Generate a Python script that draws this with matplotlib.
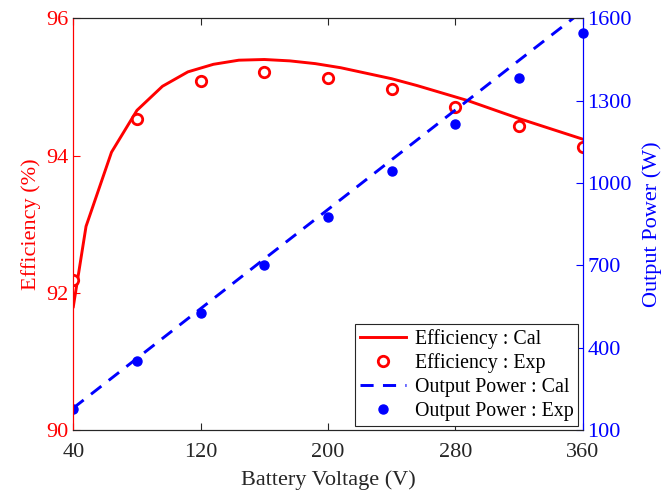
import matplotlib
matplotlib.use("Agg")
import matplotlib.pyplot as plt
from matplotlib.patches import Rectangle

plt.rcParams['font.family'] = ['Liberation Serif', 'DejaVu Serif']
plt.rcParams['mathtext.fontset'] = 'stix'

# Data
v_cal = [40, 48, 64, 80, 96, 112, 128, 144, 160, 176, 192, 208, 224, 240, 256,
         272, 288, 304, 320, 336, 352, 360]
eff_cal = [91.80, 92.97, 94.05, 94.66, 95.01, 95.22, 95.33, 95.39, 95.40, 95.38,
           95.34, 95.28, 95.20, 95.12, 95.02, 94.91, 94.80, 94.67, 94.54, 94.42,
           94.30, 94.24]
v_exp = [40, 80, 120, 160, 200, 240, 280, 320, 360]
eff_exp = [92.19, 94.53, 95.09, 95.22, 95.13, 94.97, 94.71, 94.43, 94.13]
p_cal_v = [40, 80, 120, 160, 200, 240, 280, 320, 360]
p_cal = [181, 362, 543, 724, 904, 1085, 1266, 1447, 1627]
p_exp = [177, 354, 528, 702, 876, 1045, 1215, 1382, 1548]

x_ticks = [40, 120, 200, 280, 360]
eff_ticks = [90, 92, 94, 96]
p_ticks = [100, 400, 700, 1000, 1300, 1600]

fig = plt.figure(figsize=(6.63, 4.93), dpi=100)
ax = fig.add_axes([73.3/663, 1 - 430.3/493, 509.4/663, 412/493])
ax2 = ax.twinx()

l1, = ax.plot(v_cal, eff_cal, color='#ff0000', lw=2.1, label='Efficiency : Cal')
l2, = ax.plot(v_exp, eff_exp, linestyle='none', marker='o', ms=7.5, mfc='white',
              mec='#ff0000', mew=2.0, label='Efficiency : Exp')
l3, = ax2.plot(p_cal_v, p_cal, color='#0000ff', lw=2.1, linestyle=(0, (4.5, 3.2)),
               label='Output Power : Cal')
l4, = ax2.plot(v_exp, p_exp, linestyle='none', marker='o', ms=6.5, color='#0000ff',
               label='Output Power : Exp')
clip_rect = Rectangle((0, 0), 1.05, 1.0, transform=ax2.transAxes, visible=False)
ax2.add_patch(clip_rect)
l4.set_clip_path(clip_rect)

ax.set_xlim(40, 360)
ax.set_ylim(90, 96)
ax2.set_ylim(100, 1600)
ax.set_xticks(x_ticks)
ax.set_yticks(eff_ticks)
ax2.set_yticks(p_ticks)

ax.tick_params(axis='x', direction='in', top=True, labelsize=16, colors='#262626', length=5, width=0.8, pad=9)
ax.tick_params(axis='y', direction='in', colors='#ff0000', labelsize=16, length=5, width=0.8)
ax2.tick_params(axis='y', direction='in', colors='#0000ff', labelsize=16, length=5, width=0.8)

for a in (ax, ax2):
    a.spines['top'].set_color('#262626')
    a.spines['bottom'].set_color('#262626')
    a.spines['left'].set_color('#ff0000')
    a.spines['right'].set_color('#0000ff')

ax.set_xlabel('Battery Voltage (V)', fontsize=16, color='#262626', labelpad=6)
ax.set_ylabel('Efficiency (%)', fontsize=16, color='#ff0000', labelpad=4)
ax2.set_ylabel('Output Power (W)', fontsize=16, color='#0000ff', labelpad=7)

leg = ax2.legend(handles=[l1, l2, l3, l4], loc='lower right', fontsize=14.3,
                 frameon=True, fancybox=False, edgecolor='#262626', framealpha=1,
                 borderaxespad=0.22, handlelength=2.3, labelspacing=0.24,
                 borderpad=0.25, handletextpad=0.45, numpoints=1)
leg.get_frame().set_linewidth(0.8)

fig.savefig('out.png', dpi=100)
